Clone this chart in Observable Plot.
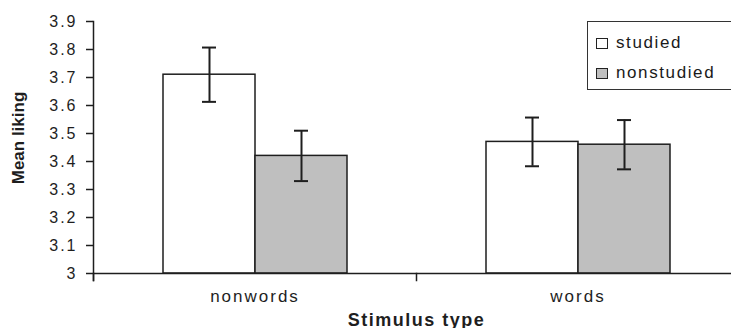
<!DOCTYPE html>
<html>
<head>
<meta charset="utf-8">
<script src="https://cdn.jsdelivr.net/npm/d3@7"></script>
<script src="https://cdn.jsdelivr.net/npm/@observablehq/plot@0.6"></script>
<style>
  html, body { margin: 0; padding: 0; background: #fff; }
  #wrap { position: relative; width: 731px; height: 328px; overflow: hidden; font-family: "Liberation Sans", Arial, sans-serif; color: #1a1a1a; }
  #wrap svg { font-family: "Liberation Sans", Arial, sans-serif; }
  g[aria-label="fx-axis tick label"] { letter-spacing: 2px; }
  g[aria-label="fx-axis label"] { font-weight: bold; font-size: 18px; letter-spacing: 1.5px; }
  g[aria-label="y-axis tick label"] { letter-spacing: 2px; }
  #legend { position: absolute; left: 587px; top: 21px; width: 170px; height: 67px; border: 1.5px solid #333; background: #fff; }
  .row { position: absolute; left: 8px; height: 20px; display: flex; align-items: center; font-size: 17px; letter-spacing: 1.6px; }
  .sw { width: 10px; height: 9px; border: 1.5px solid #222; margin-right: 8px; }
</style>
</head>
<body>
<div id="wrap"></div>
<script>
// ---- data ----
const stimulusTypes = ["nonwords", "words"];
const conditions = ["studied", "nonstudied"];
const studiedMeans = [3.71, 3.47];
const nonstudiedMeans = [3.42, 3.46];
const studiedErr = [0.097, 0.087];
const nonstudiedErr = [0.09, 0.088];
const yTicks = [3, 3.1, 3.2, 3.3, 3.4, 3.5, 3.6, 3.7, 3.8, 3.9];
const conditionFills = ["#ffffff", "#bfbfbf"];

const rows = [];
stimulusTypes.forEach((t, i) => {
  rows.push({type: t, cond: "studied", mean: studiedMeans[i], err: studiedErr[i]});
  rows.push({type: t, cond: "nonstudied", mean: nonstudiedMeans[i], err: nonstudiedErr[i]});
});

const ink = "#1e1e1e";
const chart = Plot.plot({
  width: 731,
  height: 328,
  marginLeft: 93,
  marginRight: -8,
  marginTop: 21,
  marginBottom: 48,
  style: {fontFamily: "Liberation Sans, Arial, sans-serif", color: ink, background: "white"},
  fx: {domain: stimulusTypes, padding: 0},
  x: {domain: conditions, paddingInner: 0, paddingOuter: 0.745, axis: null},
  y: {domain: [yTicks[0], yTicks[yTicks.length - 1]], range: [273, 21]},
  color: {domain: conditions, range: conditionFills},
  marks: [
    Plot.barY(rows, {fx: "type", x: "cond", y1: () => yTicks[0], y2: "mean", fill: "cond", stroke: ink, strokeWidth: 1.5}),
    Plot.ruleX(rows, {fx: "type", x: "cond", y1: d => d.mean - d.err, y2: d => d.mean + d.err, stroke: ink, strokeWidth: 2}),
    Plot.tickY(rows, {fx: "type", x: "cond", y: d => d.mean + d.err, insetLeft: 39, insetRight: 39, stroke: ink, strokeWidth: 2}),
    Plot.tickY(rows, {fx: "type", x: "cond", y: d => d.mean - d.err, insetLeft: 39, insetRight: 39, stroke: ink, strokeWidth: 2}),
    Plot.ruleY([yTicks[0]], {stroke: ink, strokeWidth: 1.5}),
    Plot.frame({anchor: "left", facetAnchor: "left", stroke: ink, strokeWidth: 1.5}),
    Plot.frame({anchor: "left", insetTop: 252, stroke: ink, strokeWidth: 1.5}),
    Plot.axisY(yTicks, {tickSize: 7, tickPadding: 9, fontSize: 16, stroke: ink, strokeWidth: 1.5,
      tickFormat: d => d === 3 ? "3" : d.toFixed(1), label: null}),
    Plot.axisFx({anchor: "bottom", tickSize: 0, tickPadding: 9, fontSize: 17,
      label: "Stimulus type", labelAnchor: "center", labelOffset: 45}),
    Plot.text(["Mean liking"], {frameAnchor: "left", facetAnchor: "left", textAnchor: "middle", lineAnchor: "middle",
      rotate: -90, dx: -75, dy: -13, fontSize: 17, fontWeight: "bold", fill: ink})
  ]
});
const wrap = document.getElementById("wrap");
wrap.appendChild(chart);

// legend (built from the same arrays)
const legend = document.createElement("div");
legend.id = "legend";
conditions.forEach((c, i) => {
  const r = document.createElement("div");
  r.className = "row";
  r.style.top = (11 + i * 30) + "px";
  const sw = document.createElement("div");
  sw.className = "sw";
  sw.style.background = conditionFills[i];
  const tx = document.createElement("span");
  tx.textContent = c;
  r.appendChild(sw); r.appendChild(tx);
  legend.appendChild(r);
});
wrap.appendChild(legend);
</script>
</body>
</html>
